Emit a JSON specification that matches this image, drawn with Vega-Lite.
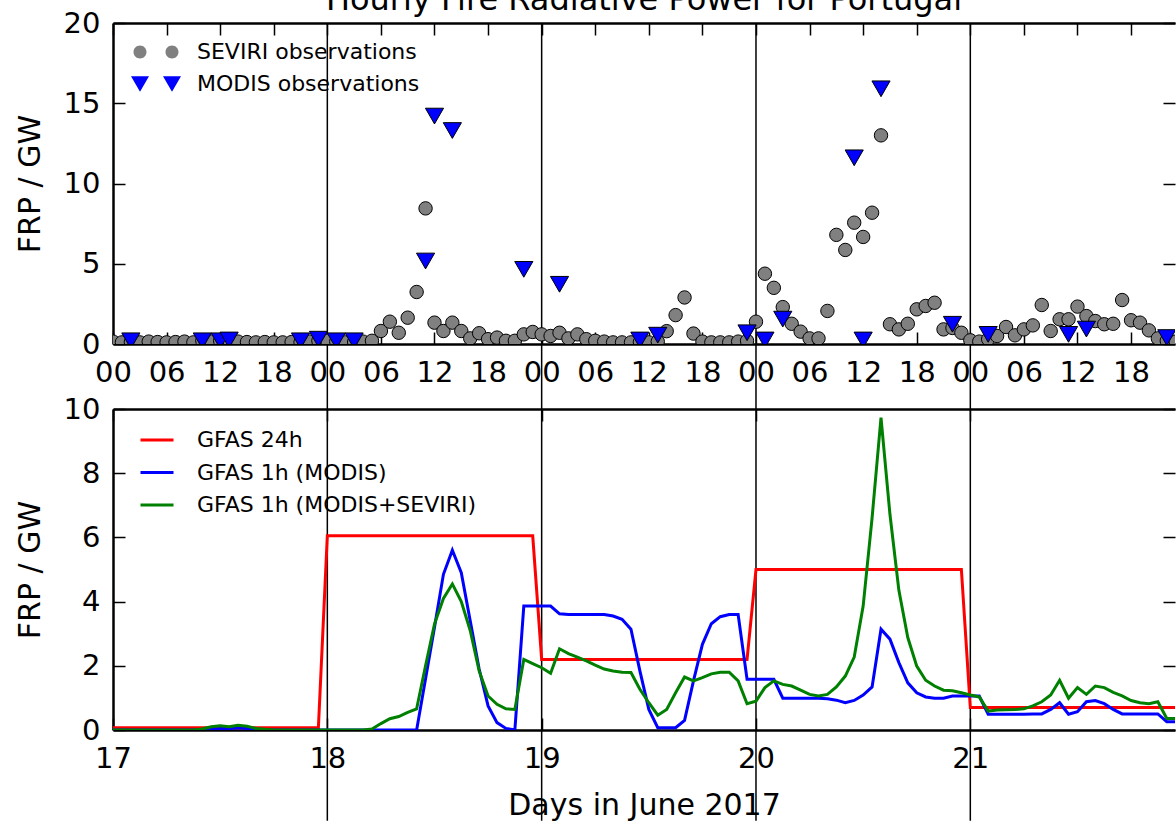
{
"$schema": "https://vega.github.io/schema/vega-lite/v6.json",
"background": "white",
"padding": {"top": -16, "left": 15, "right": 0, "bottom": 0},
"title": {"text": "Hourly Fire Radiative Power for Portugal", "font": "DejaVu Sans", "fontSize": 32, "fontWeight": "normal", "color": "black", "anchor": "middle", "frame": "group", "baseline": "alphabetic", "offset": -33},
"config": {
  "font": "DejaVu Sans",
  "view": {"stroke": null},
  "axis": {"labelFont": "DejaVu Sans", "titleFont": "DejaVu Sans", "labelFontSize": 29, "titleFontSize": 30, "labelColor": "black", "titleColor": "black", "titleFontWeight": "normal", "grid": false, "domainColor": "black", "domainWidth": 2.5, "tickColor": "black", "tickWidth": 1.5, "tickSize": -12, "labelPadding": 26, "labelFlush": false, "labelOverlap": false, "labelBound": false},
  "legend": {"labelFont": "DejaVu Sans", "labelFontSize": 22, "labelColor": "black", "labelLimit": 0, "symbolStrokeColor": "black", "symbolStrokeWidth": 1, "symbolOpacity": 1, "padding": 0, "rowPadding": 10}
},
"datasets": {
  "days": [{"day": 18}, {"day": 19}, {"day": 20}, {"day": 21}],
  "obs": [
    {"t":17,"v":0.15,"s":"SEVIRI observations"},{"t":17.0417,"v":0.1,"s":"SEVIRI observations"},{"t":17.0833,"v":0.12,"s":"SEVIRI observations"},{"t":17.125,"v":0.1,"s":"SEVIRI observations"},{"t":17.1667,"v":0.15,"s":"SEVIRI observations"},{"t":17.2083,"v":0.12,"s":"SEVIRI observations"},{"t":17.25,"v":0.1,"s":"SEVIRI observations"},{"t":17.2917,"v":0.12,"s":"SEVIRI observations"},{"t":17.3333,"v":0.15,"s":"SEVIRI observations"},{"t":17.375,"v":0.1,"s":"SEVIRI observations"},{"t":17.4167,"v":0.2,"s":"SEVIRI observations"},{"t":17.4583,"v":0.15,"s":"SEVIRI observations"},{"t":17.5,"v":0.2,"s":"SEVIRI observations"},{"t":17.5417,"v":0.25,"s":"SEVIRI observations"},{"t":17.5833,"v":0.15,"s":"SEVIRI observations"},{"t":17.625,"v":0.12,"s":"SEVIRI observations"},{"t":17.6667,"v":0.1,"s":"SEVIRI observations"},{"t":17.7083,"v":0.12,"s":"SEVIRI observations"},{"t":17.75,"v":0.1,"s":"SEVIRI observations"},{"t":17.7917,"v":0.1,"s":"SEVIRI observations"},{"t":17.8333,"v":0.12,"s":"SEVIRI observations"},{"t":17.875,"v":0.1,"s":"SEVIRI observations"},{"t":17.9167,"v":0.15,"s":"SEVIRI observations"},{"t":17.9583,"v":0.2,"s":"SEVIRI observations"},
    {"t":18,"v":0.2,"s":"SEVIRI observations"},{"t":18.0417,"v":0.15,"s":"SEVIRI observations"},{"t":18.0833,"v":0.1,"s":"SEVIRI observations"},{"t":18.125,"v":0.12,"s":"SEVIRI observations"},{"t":18.1667,"v":0.15,"s":"SEVIRI observations"},{"t":18.2083,"v":0.2,"s":"SEVIRI observations"},{"t":18.25,"v":0.81,"s":"SEVIRI observations"},{"t":18.2917,"v":1.39,"s":"SEVIRI observations"},{"t":18.3333,"v":0.7,"s":"SEVIRI observations"},{"t":18.375,"v":1.64,"s":"SEVIRI observations"},{"t":18.4167,"v":3.24,"s":"SEVIRI observations"},{"t":18.4583,"v":8.45,"s":"SEVIRI observations"},{"t":18.5,"v":1.33,"s":"SEVIRI observations"},{"t":18.5417,"v":0.81,"s":"SEVIRI observations"},{"t":18.5833,"v":1.33,"s":"SEVIRI observations"},{"t":18.625,"v":0.81,"s":"SEVIRI observations"},{"t":18.6667,"v":0.35,"s":"SEVIRI observations"},{"t":18.7083,"v":0.67,"s":"SEVIRI observations"},{"t":18.75,"v":0.3,"s":"SEVIRI observations"},{"t":18.7917,"v":0.4,"s":"SEVIRI observations"},{"t":18.8333,"v":0.2,"s":"SEVIRI observations"},{"t":18.875,"v":0.2,"s":"SEVIRI observations"},{"t":18.9167,"v":0.6,"s":"SEVIRI observations"},{"t":18.9583,"v":0.75,"s":"SEVIRI observations"},
    {"t":19,"v":0.6,"s":"SEVIRI observations"},{"t":19.0417,"v":0.5,"s":"SEVIRI observations"},{"t":19.0833,"v":0.7,"s":"SEVIRI observations"},{"t":19.125,"v":0.35,"s":"SEVIRI observations"},{"t":19.1667,"v":0.6,"s":"SEVIRI observations"},{"t":19.2083,"v":0.3,"s":"SEVIRI observations"},{"t":19.25,"v":0.2,"s":"SEVIRI observations"},{"t":19.2917,"v":0.15,"s":"SEVIRI observations"},{"t":19.3333,"v":0.1,"s":"SEVIRI observations"},{"t":19.375,"v":0.1,"s":"SEVIRI observations"},{"t":19.4167,"v":0.1,"s":"SEVIRI observations"},{"t":19.4583,"v":0.12,"s":"SEVIRI observations"},{"t":19.5,"v":0.1,"s":"SEVIRI observations"},{"t":19.5417,"v":0.15,"s":"SEVIRI observations"},{"t":19.5833,"v":0.8,"s":"SEVIRI observations"},{"t":19.625,"v":1.8,"s":"SEVIRI observations"},{"t":19.6667,"v":2.9,"s":"SEVIRI observations"},{"t":19.7083,"v":0.65,"s":"SEVIRI observations"},{"t":19.75,"v":0.15,"s":"SEVIRI observations"},{"t":19.7917,"v":0.1,"s":"SEVIRI observations"},{"t":19.8333,"v":0.1,"s":"SEVIRI observations"},{"t":19.875,"v":0.1,"s":"SEVIRI observations"},{"t":19.9167,"v":0.15,"s":"SEVIRI observations"},{"t":19.9583,"v":0.2,"s":"SEVIRI observations"},
    {"t":20,"v":1.39,"s":"SEVIRI observations"},{"t":20.0417,"v":4.38,"s":"SEVIRI observations"},{"t":20.0833,"v":3.5,"s":"SEVIRI observations"},{"t":20.125,"v":2.3,"s":"SEVIRI observations"},{"t":20.1667,"v":1.26,"s":"SEVIRI observations"},{"t":20.2083,"v":0.77,"s":"SEVIRI observations"},{"t":20.25,"v":0.35,"s":"SEVIRI observations"},{"t":20.2917,"v":0.35,"s":"SEVIRI observations"},{"t":20.3333,"v":2.06,"s":"SEVIRI observations"},{"t":20.375,"v":6.8,"s":"SEVIRI observations"},{"t":20.4167,"v":5.86,"s":"SEVIRI observations"},{"t":20.4583,"v":7.56,"s":"SEVIRI observations"},{"t":20.5,"v":6.67,"s":"SEVIRI observations"},{"t":20.5417,"v":8.18,"s":"SEVIRI observations"},{"t":20.5833,"v":13.0,"s":"SEVIRI observations"},{"t":20.625,"v":1.23,"s":"SEVIRI observations"},{"t":20.6667,"v":0.91,"s":"SEVIRI observations"},{"t":20.7083,"v":1.26,"s":"SEVIRI observations"},{"t":20.75,"v":2.16,"s":"SEVIRI observations"},{"t":20.7917,"v":2.37,"s":"SEVIRI observations"},{"t":20.8333,"v":2.57,"s":"SEVIRI observations"},{"t":20.875,"v":0.91,"s":"SEVIRI observations"},{"t":20.9167,"v":1.0,"s":"SEVIRI observations"},{"t":20.9583,"v":0.7,"s":"SEVIRI observations"},
    {"t":21,"v":0.23,"s":"SEVIRI observations"},{"t":21.0417,"v":0.15,"s":"SEVIRI observations"},{"t":21.0833,"v":0.3,"s":"SEVIRI observations"},{"t":21.125,"v":0.5,"s":"SEVIRI observations"},{"t":21.1667,"v":1.06,"s":"SEVIRI observations"},{"t":21.2083,"v":0.54,"s":"SEVIRI observations"},{"t":21.25,"v":0.91,"s":"SEVIRI observations"},{"t":21.2917,"v":1.16,"s":"SEVIRI observations"},{"t":21.3333,"v":2.43,"s":"SEVIRI observations"},{"t":21.375,"v":0.81,"s":"SEVIRI observations"},{"t":21.4167,"v":1.54,"s":"SEVIRI observations"},{"t":21.4583,"v":1.54,"s":"SEVIRI observations"},{"t":21.5,"v":2.33,"s":"SEVIRI observations"},{"t":21.5417,"v":1.74,"s":"SEVIRI observations"},{"t":21.5833,"v":1.43,"s":"SEVIRI observations"},{"t":21.625,"v":1.23,"s":"SEVIRI observations"},{"t":21.6667,"v":1.26,"s":"SEVIRI observations"},{"t":21.7083,"v":2.74,"s":"SEVIRI observations"},{"t":21.75,"v":1.48,"s":"SEVIRI observations"},{"t":21.7917,"v":1.33,"s":"SEVIRI observations"},{"t":21.8333,"v":0.85,"s":"SEVIRI observations"},{"t":21.875,"v":0.35,"s":"SEVIRI observations"},{"t":21.9167,"v":0.2,"s":"SEVIRI observations"},{"t":21.9583,"v":0.15,"s":"SEVIRI observations"},
    {"t":17.0833,"v":0.2,"s":"MODIS observations"},{"t":17.4167,"v":0.2,"s":"MODIS observations"},{"t":17.5,"v":0.2,"s":"MODIS observations"},{"t":17.5417,"v":0.25,"s":"MODIS observations"},{"t":17.875,"v":0.2,"s":"MODIS observations"},{"t":17.9583,"v":0.3,"s":"MODIS observations"},
    {"t":18.0417,"v":0.2,"s":"MODIS observations"},{"t":18.125,"v":0.2,"s":"MODIS observations"},{"t":18.4583,"v":5.17,"s":"MODIS observations"},{"t":18.5,"v":14.2,"s":"MODIS observations"},{"t":18.5833,"v":13.3,"s":"MODIS observations"},{"t":18.9167,"v":4.65,"s":"MODIS observations"},
    {"t":19.0833,"v":3.72,"s":"MODIS observations"},{"t":19.4583,"v":0.25,"s":"MODIS observations"},{"t":19.5417,"v":0.55,"s":"MODIS observations"},{"t":19.9583,"v":0.7,"s":"MODIS observations"},
    {"t":20.0417,"v":0.25,"s":"MODIS observations"},{"t":20.125,"v":1.55,"s":"MODIS observations"},{"t":20.4583,"v":11.6,"s":"MODIS observations"},{"t":20.5,"v":0.25,"s":"MODIS observations"},{"t":20.5833,"v":15.9,"s":"MODIS observations"},{"t":20.9167,"v":1.23,"s":"MODIS observations"},
    {"t":21.0833,"v":0.6,"s":"MODIS observations"},{"t":21.4583,"v":0.6,"s":"MODIS observations"},{"t":21.5417,"v":0.93,"s":"MODIS observations"},{"t":21.9167,"v":0.4,"s":"MODIS observations"}
  ],
  "gfas": [
    {"t":17,"v":0.07,"s":"GFAS 24h"},{"t":17.9583,"v":0.07,"s":"GFAS 24h"},{"t":18,"v":6.05,"s":"GFAS 24h"},{"t":18.9583,"v":6.05,"s":"GFAS 24h"},{"t":19,"v":2.2,"s":"GFAS 24h"},{"t":19.9583,"v":2.2,"s":"GFAS 24h"},{"t":20,"v":5.0,"s":"GFAS 24h"},{"t":20.9583,"v":5.0,"s":"GFAS 24h"},{"t":21,"v":0.7,"s":"GFAS 24h"},{"t":21.9583,"v":0.7,"s":"GFAS 24h"},
    {"t":17,"v":0,"s":"GFAS 1h (MODIS)"},{"t":17.0417,"v":0,"s":"GFAS 1h (MODIS)"},{"t":17.0833,"v":0,"s":"GFAS 1h (MODIS)"},{"t":17.125,"v":0,"s":"GFAS 1h (MODIS)"},{"t":17.1667,"v":0,"s":"GFAS 1h (MODIS)"},{"t":17.2083,"v":0,"s":"GFAS 1h (MODIS)"},{"t":17.25,"v":0,"s":"GFAS 1h (MODIS)"},{"t":17.2917,"v":0,"s":"GFAS 1h (MODIS)"},{"t":17.3333,"v":0,"s":"GFAS 1h (MODIS)"},{"t":17.375,"v":0,"s":"GFAS 1h (MODIS)"},{"t":17.4167,"v":0,"s":"GFAS 1h (MODIS)"},{"t":17.4583,"v":0.02,"s":"GFAS 1h (MODIS)"},{"t":17.5,"v":0.05,"s":"GFAS 1h (MODIS)"},{"t":17.5417,"v":0.04,"s":"GFAS 1h (MODIS)"},{"t":17.5833,"v":0.07,"s":"GFAS 1h (MODIS)"},{"t":17.625,"v":0.05,"s":"GFAS 1h (MODIS)"},{"t":17.6667,"v":0.02,"s":"GFAS 1h (MODIS)"},{"t":17.7083,"v":0,"s":"GFAS 1h (MODIS)"},{"t":17.75,"v":0,"s":"GFAS 1h (MODIS)"},{"t":17.7917,"v":0,"s":"GFAS 1h (MODIS)"},{"t":17.8333,"v":0,"s":"GFAS 1h (MODIS)"},{"t":17.875,"v":0,"s":"GFAS 1h (MODIS)"},{"t":17.9167,"v":0,"s":"GFAS 1h (MODIS)"},{"t":17.9583,"v":0,"s":"GFAS 1h (MODIS)"},
    {"t":18,"v":0,"s":"GFAS 1h (MODIS)"},{"t":18.0417,"v":0,"s":"GFAS 1h (MODIS)"},{"t":18.0833,"v":0,"s":"GFAS 1h (MODIS)"},{"t":18.125,"v":0,"s":"GFAS 1h (MODIS)"},{"t":18.1667,"v":0,"s":"GFAS 1h (MODIS)"},{"t":18.2083,"v":0,"s":"GFAS 1h (MODIS)"},{"t":18.25,"v":0,"s":"GFAS 1h (MODIS)"},{"t":18.2917,"v":0,"s":"GFAS 1h (MODIS)"},{"t":18.3333,"v":0,"s":"GFAS 1h (MODIS)"},{"t":18.375,"v":0,"s":"GFAS 1h (MODIS)"},{"t":18.4167,"v":0,"s":"GFAS 1h (MODIS)"},{"t":18.4583,"v":1.6,"s":"GFAS 1h (MODIS)"},{"t":18.5,"v":3.2,"s":"GFAS 1h (MODIS)"},{"t":18.5417,"v":4.85,"s":"GFAS 1h (MODIS)"},{"t":18.5833,"v":5.6,"s":"GFAS 1h (MODIS)"},{"t":18.625,"v":4.9,"s":"GFAS 1h (MODIS)"},{"t":18.6667,"v":3.4,"s":"GFAS 1h (MODIS)"},{"t":18.7083,"v":1.9,"s":"GFAS 1h (MODIS)"},{"t":18.75,"v":0.75,"s":"GFAS 1h (MODIS)"},{"t":18.7917,"v":0.23,"s":"GFAS 1h (MODIS)"},{"t":18.8333,"v":0.05,"s":"GFAS 1h (MODIS)"},{"t":18.875,"v":0,"s":"GFAS 1h (MODIS)"},{"t":18.9167,"v":3.86,"s":"GFAS 1h (MODIS)"},{"t":18.9583,"v":3.86,"s":"GFAS 1h (MODIS)"},
    {"t":19,"v":3.86,"s":"GFAS 1h (MODIS)"},{"t":19.0417,"v":3.86,"s":"GFAS 1h (MODIS)"},{"t":19.0833,"v":3.62,"s":"GFAS 1h (MODIS)"},{"t":19.125,"v":3.6,"s":"GFAS 1h (MODIS)"},{"t":19.1667,"v":3.6,"s":"GFAS 1h (MODIS)"},{"t":19.2083,"v":3.6,"s":"GFAS 1h (MODIS)"},{"t":19.25,"v":3.6,"s":"GFAS 1h (MODIS)"},{"t":19.2917,"v":3.6,"s":"GFAS 1h (MODIS)"},{"t":19.3333,"v":3.55,"s":"GFAS 1h (MODIS)"},{"t":19.375,"v":3.45,"s":"GFAS 1h (MODIS)"},{"t":19.4167,"v":3.14,"s":"GFAS 1h (MODIS)"},{"t":19.4583,"v":1.84,"s":"GFAS 1h (MODIS)"},{"t":19.5,"v":0.64,"s":"GFAS 1h (MODIS)"},{"t":19.5417,"v":0.07,"s":"GFAS 1h (MODIS)"},{"t":19.5833,"v":0.07,"s":"GFAS 1h (MODIS)"},{"t":19.625,"v":0.07,"s":"GFAS 1h (MODIS)"},{"t":19.6667,"v":0.3,"s":"GFAS 1h (MODIS)"},{"t":19.7083,"v":1.53,"s":"GFAS 1h (MODIS)"},{"t":19.75,"v":2.67,"s":"GFAS 1h (MODIS)"},{"t":19.7917,"v":3.31,"s":"GFAS 1h (MODIS)"},{"t":19.8333,"v":3.53,"s":"GFAS 1h (MODIS)"},{"t":19.875,"v":3.6,"s":"GFAS 1h (MODIS)"},{"t":19.9167,"v":3.6,"s":"GFAS 1h (MODIS)"},{"t":19.9583,"v":1.58,"s":"GFAS 1h (MODIS)"},
    {"t":20,"v":1.58,"s":"GFAS 1h (MODIS)"},{"t":20.0417,"v":1.58,"s":"GFAS 1h (MODIS)"},{"t":20.0833,"v":1.58,"s":"GFAS 1h (MODIS)"},{"t":20.125,"v":0.99,"s":"GFAS 1h (MODIS)"},{"t":20.1667,"v":0.99,"s":"GFAS 1h (MODIS)"},{"t":20.2083,"v":0.99,"s":"GFAS 1h (MODIS)"},{"t":20.25,"v":0.99,"s":"GFAS 1h (MODIS)"},{"t":20.2917,"v":0.99,"s":"GFAS 1h (MODIS)"},{"t":20.3333,"v":0.97,"s":"GFAS 1h (MODIS)"},{"t":20.375,"v":0.93,"s":"GFAS 1h (MODIS)"},{"t":20.4167,"v":0.85,"s":"GFAS 1h (MODIS)"},{"t":20.4583,"v":0.92,"s":"GFAS 1h (MODIS)"},{"t":20.5,"v":1.09,"s":"GFAS 1h (MODIS)"},{"t":20.5417,"v":1.34,"s":"GFAS 1h (MODIS)"},{"t":20.5833,"v":3.14,"s":"GFAS 1h (MODIS)"},{"t":20.625,"v":2.83,"s":"GFAS 1h (MODIS)"},{"t":20.6667,"v":2.1,"s":"GFAS 1h (MODIS)"},{"t":20.7083,"v":1.47,"s":"GFAS 1h (MODIS)"},{"t":20.75,"v":1.16,"s":"GFAS 1h (MODIS)"},{"t":20.7917,"v":1.03,"s":"GFAS 1h (MODIS)"},{"t":20.8333,"v":0.99,"s":"GFAS 1h (MODIS)"},{"t":20.875,"v":0.99,"s":"GFAS 1h (MODIS)"},{"t":20.9167,"v":1.06,"s":"GFAS 1h (MODIS)"},{"t":20.9583,"v":1.06,"s":"GFAS 1h (MODIS)"},
    {"t":21,"v":1.06,"s":"GFAS 1h (MODIS)"},{"t":21.0417,"v":1.06,"s":"GFAS 1h (MODIS)"},{"t":21.0833,"v":0.49,"s":"GFAS 1h (MODIS)"},{"t":21.125,"v":0.49,"s":"GFAS 1h (MODIS)"},{"t":21.1667,"v":0.49,"s":"GFAS 1h (MODIS)"},{"t":21.2083,"v":0.49,"s":"GFAS 1h (MODIS)"},{"t":21.25,"v":0.49,"s":"GFAS 1h (MODIS)"},{"t":21.2917,"v":0.5,"s":"GFAS 1h (MODIS)"},{"t":21.3333,"v":0.5,"s":"GFAS 1h (MODIS)"},{"t":21.375,"v":0.64,"s":"GFAS 1h (MODIS)"},{"t":21.4167,"v":0.85,"s":"GFAS 1h (MODIS)"},{"t":21.4583,"v":0.49,"s":"GFAS 1h (MODIS)"},{"t":21.5,"v":0.57,"s":"GFAS 1h (MODIS)"},{"t":21.5417,"v":0.88,"s":"GFAS 1h (MODIS)"},{"t":21.5833,"v":0.92,"s":"GFAS 1h (MODIS)"},{"t":21.625,"v":0.82,"s":"GFAS 1h (MODIS)"},{"t":21.6667,"v":0.64,"s":"GFAS 1h (MODIS)"},{"t":21.7083,"v":0.5,"s":"GFAS 1h (MODIS)"},{"t":21.75,"v":0.5,"s":"GFAS 1h (MODIS)"},{"t":21.7917,"v":0.5,"s":"GFAS 1h (MODIS)"},{"t":21.8333,"v":0.5,"s":"GFAS 1h (MODIS)"},{"t":21.875,"v":0.5,"s":"GFAS 1h (MODIS)"},{"t":21.9167,"v":0.26,"s":"GFAS 1h (MODIS)"},{"t":21.9583,"v":0.26,"s":"GFAS 1h (MODIS)"},
    {"t":17,"v":0,"s":"GFAS 1h (MODIS+SEVIRI)"},{"t":17.0417,"v":0,"s":"GFAS 1h (MODIS+SEVIRI)"},{"t":17.0833,"v":0,"s":"GFAS 1h (MODIS+SEVIRI)"},{"t":17.125,"v":0,"s":"GFAS 1h (MODIS+SEVIRI)"},{"t":17.1667,"v":0,"s":"GFAS 1h (MODIS+SEVIRI)"},{"t":17.2083,"v":0,"s":"GFAS 1h (MODIS+SEVIRI)"},{"t":17.25,"v":0,"s":"GFAS 1h (MODIS+SEVIRI)"},{"t":17.2917,"v":0,"s":"GFAS 1h (MODIS+SEVIRI)"},{"t":17.3333,"v":0,"s":"GFAS 1h (MODIS+SEVIRI)"},{"t":17.375,"v":0,"s":"GFAS 1h (MODIS+SEVIRI)"},{"t":17.4167,"v":0.03,"s":"GFAS 1h (MODIS+SEVIRI)"},{"t":17.4583,"v":0.1,"s":"GFAS 1h (MODIS+SEVIRI)"},{"t":17.5,"v":0.13,"s":"GFAS 1h (MODIS+SEVIRI)"},{"t":17.5417,"v":0.1,"s":"GFAS 1h (MODIS+SEVIRI)"},{"t":17.5833,"v":0.15,"s":"GFAS 1h (MODIS+SEVIRI)"},{"t":17.625,"v":0.12,"s":"GFAS 1h (MODIS+SEVIRI)"},{"t":17.6667,"v":0.05,"s":"GFAS 1h (MODIS+SEVIRI)"},{"t":17.7083,"v":0.02,"s":"GFAS 1h (MODIS+SEVIRI)"},{"t":17.75,"v":0,"s":"GFAS 1h (MODIS+SEVIRI)"},{"t":17.7917,"v":0,"s":"GFAS 1h (MODIS+SEVIRI)"},{"t":17.8333,"v":0,"s":"GFAS 1h (MODIS+SEVIRI)"},{"t":17.875,"v":0,"s":"GFAS 1h (MODIS+SEVIRI)"},{"t":17.9167,"v":0,"s":"GFAS 1h (MODIS+SEVIRI)"},{"t":17.9583,"v":0,"s":"GFAS 1h (MODIS+SEVIRI)"},
    {"t":18,"v":0,"s":"GFAS 1h (MODIS+SEVIRI)"},{"t":18.0417,"v":0,"s":"GFAS 1h (MODIS+SEVIRI)"},{"t":18.0833,"v":0,"s":"GFAS 1h (MODIS+SEVIRI)"},{"t":18.125,"v":0,"s":"GFAS 1h (MODIS+SEVIRI)"},{"t":18.1667,"v":0,"s":"GFAS 1h (MODIS+SEVIRI)"},{"t":18.2083,"v":0.03,"s":"GFAS 1h (MODIS+SEVIRI)"},{"t":18.25,"v":0.2,"s":"GFAS 1h (MODIS+SEVIRI)"},{"t":18.2917,"v":0.35,"s":"GFAS 1h (MODIS+SEVIRI)"},{"t":18.3333,"v":0.42,"s":"GFAS 1h (MODIS+SEVIRI)"},{"t":18.375,"v":0.55,"s":"GFAS 1h (MODIS+SEVIRI)"},{"t":18.4167,"v":0.66,"s":"GFAS 1h (MODIS+SEVIRI)"},{"t":18.4583,"v":2.0,"s":"GFAS 1h (MODIS+SEVIRI)"},{"t":18.5,"v":3.3,"s":"GFAS 1h (MODIS+SEVIRI)"},{"t":18.5417,"v":4.1,"s":"GFAS 1h (MODIS+SEVIRI)"},{"t":18.5833,"v":4.55,"s":"GFAS 1h (MODIS+SEVIRI)"},{"t":18.625,"v":4.0,"s":"GFAS 1h (MODIS+SEVIRI)"},{"t":18.6667,"v":3.1,"s":"GFAS 1h (MODIS+SEVIRI)"},{"t":18.7083,"v":1.84,"s":"GFAS 1h (MODIS+SEVIRI)"},{"t":18.75,"v":1.06,"s":"GFAS 1h (MODIS+SEVIRI)"},{"t":18.7917,"v":0.8,"s":"GFAS 1h (MODIS+SEVIRI)"},{"t":18.8333,"v":0.66,"s":"GFAS 1h (MODIS+SEVIRI)"},{"t":18.875,"v":0.64,"s":"GFAS 1h (MODIS+SEVIRI)"},{"t":18.9167,"v":2.2,"s":"GFAS 1h (MODIS+SEVIRI)"},{"t":18.9583,"v":2.07,"s":"GFAS 1h (MODIS+SEVIRI)"},
    {"t":19,"v":1.94,"s":"GFAS 1h (MODIS+SEVIRI)"},{"t":19.0417,"v":1.77,"s":"GFAS 1h (MODIS+SEVIRI)"},{"t":19.0833,"v":2.53,"s":"GFAS 1h (MODIS+SEVIRI)"},{"t":19.125,"v":2.38,"s":"GFAS 1h (MODIS+SEVIRI)"},{"t":19.1667,"v":2.27,"s":"GFAS 1h (MODIS+SEVIRI)"},{"t":19.2083,"v":2.15,"s":"GFAS 1h (MODIS+SEVIRI)"},{"t":19.25,"v":2.02,"s":"GFAS 1h (MODIS+SEVIRI)"},{"t":19.2917,"v":1.9,"s":"GFAS 1h (MODIS+SEVIRI)"},{"t":19.3333,"v":1.84,"s":"GFAS 1h (MODIS+SEVIRI)"},{"t":19.375,"v":1.8,"s":"GFAS 1h (MODIS+SEVIRI)"},{"t":19.4167,"v":1.79,"s":"GFAS 1h (MODIS+SEVIRI)"},{"t":19.4583,"v":1.27,"s":"GFAS 1h (MODIS+SEVIRI)"},{"t":19.5,"v":0.85,"s":"GFAS 1h (MODIS+SEVIRI)"},{"t":19.5417,"v":0.46,"s":"GFAS 1h (MODIS+SEVIRI)"},{"t":19.5833,"v":0.64,"s":"GFAS 1h (MODIS+SEVIRI)"},{"t":19.625,"v":1.16,"s":"GFAS 1h (MODIS+SEVIRI)"},{"t":19.6667,"v":1.65,"s":"GFAS 1h (MODIS+SEVIRI)"},{"t":19.7083,"v":1.53,"s":"GFAS 1h (MODIS+SEVIRI)"},{"t":19.75,"v":1.63,"s":"GFAS 1h (MODIS+SEVIRI)"},{"t":19.7917,"v":1.75,"s":"GFAS 1h (MODIS+SEVIRI)"},{"t":19.8333,"v":1.8,"s":"GFAS 1h (MODIS+SEVIRI)"},{"t":19.875,"v":1.8,"s":"GFAS 1h (MODIS+SEVIRI)"},{"t":19.9167,"v":1.53,"s":"GFAS 1h (MODIS+SEVIRI)"},{"t":19.9583,"v":0.82,"s":"GFAS 1h (MODIS+SEVIRI)"},
    {"t":20,"v":0.9,"s":"GFAS 1h (MODIS+SEVIRI)"},{"t":20.0417,"v":1.32,"s":"GFAS 1h (MODIS+SEVIRI)"},{"t":20.0833,"v":1.53,"s":"GFAS 1h (MODIS+SEVIRI)"},{"t":20.125,"v":1.42,"s":"GFAS 1h (MODIS+SEVIRI)"},{"t":20.1667,"v":1.37,"s":"GFAS 1h (MODIS+SEVIRI)"},{"t":20.2083,"v":1.24,"s":"GFAS 1h (MODIS+SEVIRI)"},{"t":20.25,"v":1.11,"s":"GFAS 1h (MODIS+SEVIRI)"},{"t":20.2917,"v":1.06,"s":"GFAS 1h (MODIS+SEVIRI)"},{"t":20.3333,"v":1.11,"s":"GFAS 1h (MODIS+SEVIRI)"},{"t":20.375,"v":1.34,"s":"GFAS 1h (MODIS+SEVIRI)"},{"t":20.4167,"v":1.68,"s":"GFAS 1h (MODIS+SEVIRI)"},{"t":20.4583,"v":2.27,"s":"GFAS 1h (MODIS+SEVIRI)"},{"t":20.5,"v":3.86,"s":"GFAS 1h (MODIS+SEVIRI)"},{"t":20.5417,"v":6.61,"s":"GFAS 1h (MODIS+SEVIRI)"},{"t":20.5833,"v":9.73,"s":"GFAS 1h (MODIS+SEVIRI)"},{"t":20.625,"v":6.72,"s":"GFAS 1h (MODIS+SEVIRI)"},{"t":20.6667,"v":4.35,"s":"GFAS 1h (MODIS+SEVIRI)"},{"t":20.7083,"v":2.88,"s":"GFAS 1h (MODIS+SEVIRI)"},{"t":20.75,"v":1.99,"s":"GFAS 1h (MODIS+SEVIRI)"},{"t":20.7917,"v":1.55,"s":"GFAS 1h (MODIS+SEVIRI)"},{"t":20.8333,"v":1.37,"s":"GFAS 1h (MODIS+SEVIRI)"},{"t":20.875,"v":1.24,"s":"GFAS 1h (MODIS+SEVIRI)"},{"t":20.9167,"v":1.22,"s":"GFAS 1h (MODIS+SEVIRI)"},{"t":20.9583,"v":1.16,"s":"GFAS 1h (MODIS+SEVIRI)"},
    {"t":21,"v":1.09,"s":"GFAS 1h (MODIS+SEVIRI)"},{"t":21.0417,"v":1.03,"s":"GFAS 1h (MODIS+SEVIRI)"},{"t":21.0833,"v":0.59,"s":"GFAS 1h (MODIS+SEVIRI)"},{"t":21.125,"v":0.62,"s":"GFAS 1h (MODIS+SEVIRI)"},{"t":21.1667,"v":0.63,"s":"GFAS 1h (MODIS+SEVIRI)"},{"t":21.2083,"v":0.64,"s":"GFAS 1h (MODIS+SEVIRI)"},{"t":21.25,"v":0.66,"s":"GFAS 1h (MODIS+SEVIRI)"},{"t":21.2917,"v":0.75,"s":"GFAS 1h (MODIS+SEVIRI)"},{"t":21.3333,"v":0.88,"s":"GFAS 1h (MODIS+SEVIRI)"},{"t":21.375,"v":1.09,"s":"GFAS 1h (MODIS+SEVIRI)"},{"t":21.4167,"v":1.55,"s":"GFAS 1h (MODIS+SEVIRI)"},{"t":21.4583,"v":0.99,"s":"GFAS 1h (MODIS+SEVIRI)"},{"t":21.5,"v":1.32,"s":"GFAS 1h (MODIS+SEVIRI)"},{"t":21.5417,"v":1.11,"s":"GFAS 1h (MODIS+SEVIRI)"},{"t":21.5833,"v":1.37,"s":"GFAS 1h (MODIS+SEVIRI)"},{"t":21.625,"v":1.32,"s":"GFAS 1h (MODIS+SEVIRI)"},{"t":21.6667,"v":1.17,"s":"GFAS 1h (MODIS+SEVIRI)"},{"t":21.7083,"v":1.06,"s":"GFAS 1h (MODIS+SEVIRI)"},{"t":21.75,"v":0.92,"s":"GFAS 1h (MODIS+SEVIRI)"},{"t":21.7917,"v":0.85,"s":"GFAS 1h (MODIS+SEVIRI)"},{"t":21.8333,"v":0.82,"s":"GFAS 1h (MODIS+SEVIRI)"},{"t":21.875,"v":0.88,"s":"GFAS 1h (MODIS+SEVIRI)"},{"t":21.9167,"v":0.36,"s":"GFAS 1h (MODIS+SEVIRI)"},{"t":21.9583,"v":0.36,"s":"GFAS 1h (MODIS+SEVIRI)"}
  ]
},
"bounds": "flush",
"spacing": 65,
"resolve": {"scale": {"color": "independent", "shape": "independent", "size": "independent"}, "legend": {"color": "independent", "shape": "independent", "size": "independent"}},
"vconcat": [
  {
    "width": 1062, "height": 321,
    "layer": [
      {
        "data": {"name": "days"},
        "mark": {"type": "rule", "color": "black", "strokeWidth": 1.5, "clip": false},
        "encoding": {
          "x": {"field": "day", "type": "quantitative", "scale": {"domain": [17, 21.955], "nice": false, "zero": false},
                "axis": {"orient": "bottom", "title": null, "values": [17,17.25,17.5,17.75,18,18.25,18.5,18.75,19,19.25,19.5,19.75,20,20.25,20.5,20.75,21,21.25,21.5,21.75], "labelExpr": "['00','06','12','18'][round((datum.value % 1) * 4) % 4]"}},
          "y": {"datum": 20, "type": "quantitative", "scale": {"domain": [0, 20], "nice": false, "zero": false},
                "axis": {"orient": "left", "title": "FRP / GW", "values": [0,5,10,15,20], "titlePadding": 18, "labelPadding": 25}},
          "y2": {"datum": -4.05}
        }
      },
      {
        "data": {"name": "obs"},
        "mark": {"type": "point", "filled": true, "stroke": "black", "strokeWidth": 1, "opacity": 1, "clip": true},
        "encoding": {
          "x": {"field": "t", "type": "quantitative",
                "axis": {"orient": "top", "title": null, "labels": false, "values": [17,17.25,17.5,17.75,18,18.25,18.5,18.75,19,19.25,19.5,19.75,20,20.25,20.5,20.75,21,21.25,21.5,21.75]}},
          "y": {"field": "v", "type": "quantitative",
                "axis": {"orient": "right", "title": null, "labels": false, "domain": false, "values": [0,5,10,15,20]}},
          "color": {"field": "s", "type": "nominal",
                    "scale": {"domain": ["SEVIRI observations", "MODIS observations"], "range": ["#808080", "#0000ff"]}, "legend": null},
          "shape": {"field": "s", "type": "nominal",
                    "scale": {"domain": ["SEVIRI observations", "MODIS observations"], "range": ["circle", "triangle-down"]}, "legend": null},
          "size": {"field": "s", "type": "nominal",
                   "scale": {"domain": ["SEVIRI observations", "MODIS observations"], "range": [180, 330]}, "legend": null}
        }
      },
      {
        "data": {"name": "obs"},
        "transform": [{"filter": "false"}],
        "mark": {"type": "point", "filled": true, "stroke": "black", "strokeWidth": 1, "opacity": 1},
        "encoding": {
          "x": {"field": "t", "type": "quantitative", "axis": null},
          "y": {"field": "v", "type": "quantitative", "axis": null},
          "color": {"field": "s", "type": "nominal",
                    "scale": {"domain": ["SEVIRI observations", "MODIS observations"], "range": ["#808080", "#0000ff"]},
                    "legend": {"orient": "none", "legendX": 32, "legendY": 18, "title": null, "symbolSize": 400, "labelOffset": 30}},
          "shape": {"field": "s", "type": "nominal",
                    "scale": {"domain": ["SEVIRI observations", "MODIS observations"], "range": ["M-2.25,0a0.65,0.65 0 1,0 1.3,0a0.65,0.65 0 1,0 -1.3,0M0.95,0a0.65,0.65 0 1,0 1.3,0a0.65,0.65 0 1,0 -1.3,0", "M-2.5,-0.78L-0.7,-0.78L-1.6,0.78ZM0.7,-0.78L2.5,-0.78L1.6,0.78Z"]},
                    "legend": {"orient": "none", "legendX": 32, "legendY": 18, "title": null, "symbolSize": 400, "labelOffset": 30}}
        }
      }
    ],
    "resolve": {"axis": {"x": "independent", "y": "independent"}, "scale": {"color": "independent", "shape": "independent"}}
  },
  {
    "width": 1062, "height": 321,
    "layer": [
      {
        "data": {"name": "days"},
        "mark": {"type": "rule", "color": "black", "strokeWidth": 1.5, "clip": false},
        "encoding": {
          "x": {"field": "day", "type": "quantitative", "scale": {"domain": [17, 21.955], "nice": false, "zero": false},
                "axis": {"orient": "bottom", "title": "Days in June 2017", "values": [17,18,19,20,21], "format": "d", "titlePadding": 17}},
          "y": {"datum": 10, "type": "quantitative", "scale": {"domain": [0, 10], "nice": false, "zero": false},
                "axis": {"orient": "left", "title": "FRP / GW", "values": [0,2,4,6,8,10], "titlePadding": 18, "labelPadding": 25}},
          "y2": {"datum": -2.83}
        }
      },
      {
        "data": {"name": "gfas"},
        "mark": {"type": "line", "strokeWidth": 3, "clip": true},
        "encoding": {
          "x": {"field": "t", "type": "quantitative",
                "axis": {"orient": "top", "title": null, "labels": false, "values": [17,18,19,20,21]}},
          "y": {"field": "v", "type": "quantitative",
                "axis": {"orient": "right", "title": null, "labels": false, "domain": false, "values": [0,2,4,6,8,10]}},
          "color": {"field": "s", "type": "nominal",
                    "scale": {"domain": ["GFAS 24h", "GFAS 1h (MODIS)", "GFAS 1h (MODIS+SEVIRI)"], "range": ["#ff0000", "#0000ff", "#008000"]},
                    "legend": {"orient": "none", "legendX": 26, "legendY": 13, "title": null, "symbolType": "stroke", "symbolSize": 1089, "symbolStrokeWidth": 3, "labelOffset": 22, "rowPadding": 3.5}}
        }
      }
    ],
    "resolve": {"axis": {"x": "independent", "y": "independent"}}
  }
]
}
